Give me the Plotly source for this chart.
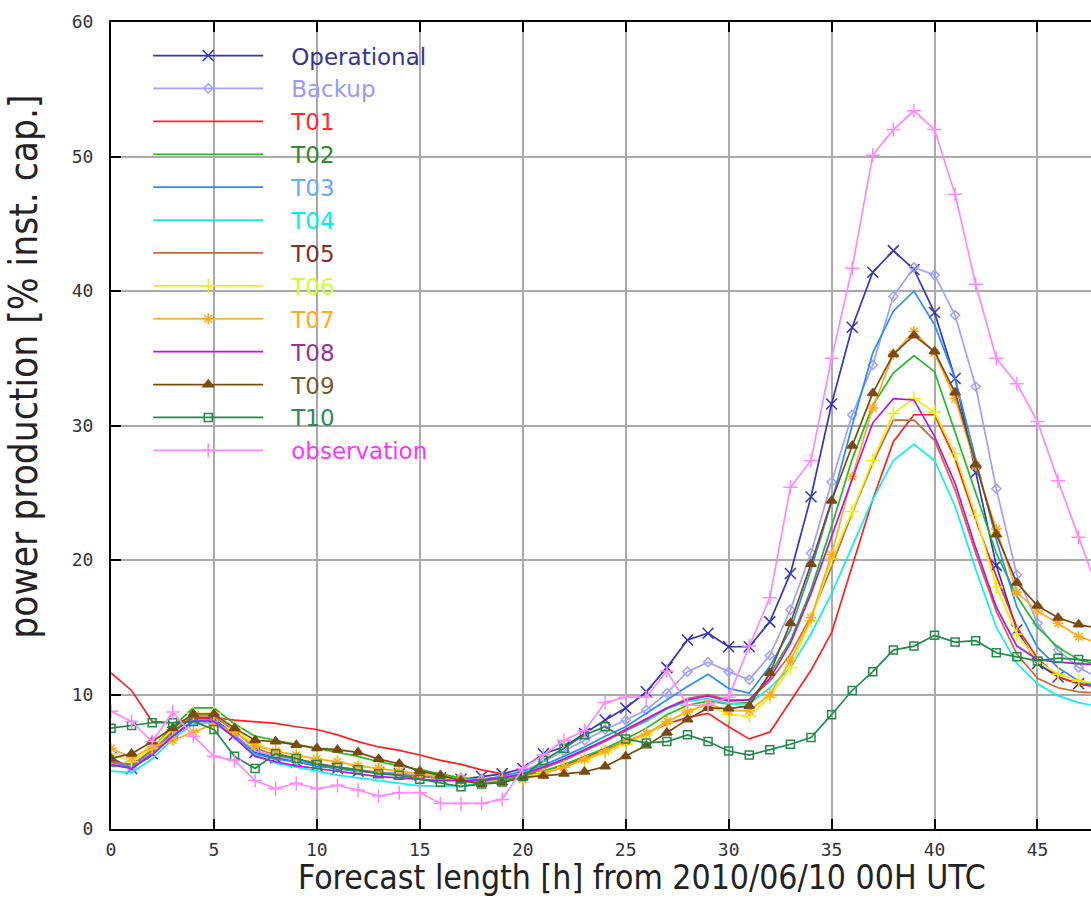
import plotly.graph_objects as go

hours = list(range(49))

operational = [5.3, 4.5, 5.6, 7.2, 8.3, 8.2, 7.0, 5.7, 5.3, 5.0, 4.7, 4.5, 4.3, 4.2, 4.1, 4.0, 3.8, 3.7, 3.9, 4.1,
               4.5, 5.6, 6.1, 7.1, 8.1, 9.0, 10.2, 12.0, 14.05, 14.55, 13.55, 13.55, 15.4, 19.0, 24.7, 31.6, 37.3,
               41.4, 43.0, 41.6, 38.4, 33.5, 26.5, 19.6, 14.8, 12.3, 11.3, 10.8, 10.6]
backup = [5.0, 4.6, 5.8, 7.0, 8.0, 8.1, 7.0, 5.8, 5.4, 5.1, 4.8, 4.6, 4.4, 4.2, 4.1, 4.0, 3.9, 3.8, 3.7, 3.9,
          4.3, 5.0, 5.8, 6.6, 7.4, 8.1, 8.85, 10.1, 11.7, 12.4, 11.7, 11.1, 12.9, 16.3, 20.5, 25.8, 30.8,
          34.5, 39.6, 41.75, 41.2, 38.2, 32.9, 25.3, 18.9, 15.3, 13.3, 12.0, 11.2]
t01 = [11.6, 10.3, 8.0, 7.9, 8.2, 8.3, 8.1, 7.95, 7.85, 7.6, 7.4, 7.0, 6.5, 6.1, 5.85, 5.5, 5.1, 4.8, 4.4, 4.1,
       4.0, 4.3, 4.7, 5.3, 5.9, 6.5, 7.1, 7.8, 8.3, 8.6, 7.6, 6.7, 7.2, 9.5, 11.8, 14.6, 19.5, 24.5, 28.8,
       30.8, 30.8, 27.5, 23.0, 18.8, 15.0, 12.7, 11.3, 10.8, 10.5]
t02 = [4.7, 4.6, 6.0, 7.6, 9.0, 9.0, 7.8, 6.9, 6.6, 6.3, 6.0, 5.7, 5.4, 5.0, 4.7, 4.4, 4.1, 3.8, 3.6, 3.7,
       3.9, 4.3, 4.8, 5.4, 6.0, 6.7, 7.5, 8.5, 9.2, 9.5, 9.3, 9.4, 11.5, 14.0, 17.8, 22.5, 27.5, 31.5, 33.9,
       35.2, 34.0, 29.5, 25.0, 20.5, 17.3, 15.0, 13.5, 12.6, 12.2]
t03 = [5.0, 4.6, 5.6, 6.9, 8.1, 8.1, 6.9, 5.6, 5.2, 5.0, 4.7, 4.5, 4.3, 4.2, 4.0, 3.9, 3.8, 3.7, 3.7, 3.9,
       4.3, 4.75, 5.4, 6.1, 6.9, 7.6, 8.6, 9.6, 10.6, 11.5, 10.45, 10.1, 12.1, 14.8, 19.3, 24.3, 30.0, 35.4,
       38.5, 40.0, 37.5, 33.5, 27.5, 21.5, 16.5, 13.5, 12.0, 11.0, 10.6]
t04 = [4.3, 4.2, 5.2, 6.7, 7.8, 7.9, 6.8, 5.5, 4.9, 4.6, 4.3, 4.0, 3.8, 3.6, 3.4, 3.2, 3.2, 3.2, 3.4, 3.8,
       4.2, 4.6, 5.2, 5.9, 6.6, 7.3, 8.0, 8.9, 9.5, 9.7, 9.3, 9.3, 10.5, 12.0, 14.5, 17.5, 21.0, 24.5, 27.4,
       28.6, 27.4, 24.0, 19.3, 15.0, 12.3, 10.8, 9.9, 9.4, 9.1]
t05 = [5.0, 4.8, 5.8, 7.3, 8.4, 8.4, 7.3, 6.0, 5.5, 5.2, 4.9, 4.6, 4.4, 4.2, 4.0, 3.9, 3.8, 3.6, 3.6, 3.8,
       4.0, 4.5, 5.1, 5.8, 6.5, 7.3, 8.1, 9.0, 9.7, 10.0, 9.6, 9.6, 11.0, 13.0, 15.8, 19.5, 23.5, 27.2, 30.4,
       30.4, 28.9, 25.2, 20.5, 16.2, 13.0, 11.2, 10.5, 10.2, 10.1]
t06 = [5.6, 5.0, 6.0, 7.4, 8.6, 8.6, 7.5, 6.3, 5.8, 5.5, 5.2, 5.0, 4.7, 4.5, 4.3, 4.1, 3.9, 3.6, 3.4, 3.6,
       3.8, 4.2, 4.6, 5.1, 5.7, 6.3, 7.0, 7.9, 8.8, 9.2, 8.5, 8.4, 9.8, 12.0, 15.5, 20.1, 23.6, 27.4, 30.9,
       32.0, 31.0, 27.9, 23.3, 18.0, 14.5, 12.5, 11.5, 11.0, 10.8]
t07 = [6.0, 5.3, 6.1, 6.6, 7.2, 7.8, 7.2, 6.2, 5.8, 5.5, 5.2, 5.0, 4.7, 4.5, 4.3, 4.1, 3.9, 3.7, 3.5, 3.6,
       3.7, 4.1, 4.6, 5.2, 5.8, 6.5, 7.1, 8.0, 8.7, 9.3, 8.8, 8.8, 10.0, 12.5, 15.7, 20.4, 26.2, 31.3, 35.3,
       37.0, 35.4, 32.0, 27.0, 22.3, 17.6, 16.2, 15.3, 14.3, 13.8]
t08 = [4.8, 4.5, 5.5, 6.9, 8.0, 8.0, 6.8, 5.4, 5.0, 4.7, 4.5, 4.3, 4.1, 3.9, 3.8, 3.7, 3.6, 3.6, 3.6, 3.8,
       4.1, 4.6, 5.2, 5.9, 6.6, 7.4, 8.2, 9.0, 9.6, 9.9, 9.5, 9.6, 11.2, 13.8, 17.5, 21.8, 26.0, 30.2, 32.0,
       31.9, 29.2, 25.7, 20.9, 16.5, 13.6, 12.6, 12.4, 12.3, 12.2]
t09 = [5.25, 5.6, 6.5, 7.5, 8.55, 8.55, 7.5, 6.6, 6.5, 6.25, 6.0, 5.9, 5.7, 5.2, 4.85, 4.3, 4.0, 3.6, 3.35, 3.45,
       3.85, 3.95, 4.1, 4.25, 4.65, 5.4, 6.2, 7.15, 8.15, 9.0, 8.95, 9.15, 11.6, 15.3, 19.7, 24.4, 28.5, 32.4,
       35.3, 36.7, 35.5, 32.45, 27.1, 21.9, 18.3, 16.6, 15.7, 15.2, 14.9]
t10 = [7.5, 7.7, 7.9, 7.9, 8.0, 7.4, 5.4, 4.5, 5.6, 5.25, 4.8, 4.6, 4.4, 4.1, 4.0, 3.7, 3.45, 3.15, 3.35, 3.5,
       3.9, 5.1, 6.0, 7.0, 7.6, 6.7, 6.4, 6.5, 7.0, 6.5, 5.8, 5.5, 5.9, 6.3, 6.8, 8.5, 10.3, 11.7, 13.3,
       13.6, 14.4, 13.9, 14.0, 13.1, 12.8, 12.5, 12.7, 12.6, 12.5]
observation = [8.75, 8.0, 6.5, 8.7, 6.9, 5.4, 5.1, 3.6, 3.0, 3.4, 3.0, 3.25, 2.9, 2.45, 2.7, 2.7, 1.9, 1.9, 1.9, 2.2,
               4.5, 5.5, 6.6, 7.3, 9.4, 9.8, 9.8, 11.75, 9.2, 9.2, 9.8, 13.6, 17.2, 25.4, 27.4, 35.0, 41.7, 50.1,
               52.0, 53.4, 52.0, 47.2, 40.5, 35.0, 33.1, 30.3, 25.9, 21.7, 17.5]

names = ["Operational", "Backup", "T01", "T02", "T03", "T04", "T05", "T06", "T07", "T08", "T09", "T10",
         "observation"]
values = [operational, backup, t01, t02, t03, t04, t05, t06, t07, t08, t09, t10, observation]
line_colors = ["#3535b5", "#a0a0ff", "#ff2020", "#22bb22", "#2a8cff", "#11eeee", "#c8683c", "#eeee11",
               "#ffaa22", "#bb11ee", "#7a4a10", "#228b4a", "#ff88ff"]
text_colors = ["#333399", "#9999ff", "#ff2a2a", "#2e8b2e", "#66aaff", "#00eeee", "#8b2a2a", "#ccff33",
               "#ffaa22", "#993399", "#7a5a2a", "#2e8b57", "#ff33ff"]
symbols = ["x-thin", "diamond-open", None, None, None, None, None, "cross-thin", "asterisk", None,
           "triangle-up", "square-open", "cross-thin"]
sizes = [11, 7, 0, 0, 0, 0, 0, 10, 9, 0, 9, 8, 10]

fig = go.Figure()
for i, (nm, vals) in enumerate(zip(names, values)):
    sym = symbols[i]
    label = '<span style="color:%s">\u2003%s</span>' % (text_colors[i], nm)
    if sym is None:
        mode = "lines"
        marker = None
    else:
        mode = "lines+markers"
        marker = dict(symbol=sym, size=sizes[i], color=line_colors[i],
                      line=dict(color=line_colors[i], width=1.5))
    fig.add_trace(go.Scatter(
        x=hours, y=vals, mode=mode, name=label, legendgroup=nm,
        line=dict(color=line_colors[i], width=1.7),
        marker=marker,
    ))

# white panel behind the legend (hides grid lines there)
fig.add_shape(type="rect", xref="paper", yref="paper", x0=0.001, x1=0.366, y0=0.4325, y1=0.999,
              fillcolor="white", line=dict(width=0), layer="between")

tick_font = dict(family="DejaVu Sans Mono", size=18, color="#333333")
title_font_x = dict(family="Liberation Sans Narrow, DejaVu Sans Condensed, sans-serif", size=33.5, color="#222222")
title_font_y = dict(family="Liberation Sans Narrow, DejaVu Sans Condensed, sans-serif", size=38.5, color="#222222")

fig.add_annotation(text="Forecast length [h] from 2010/06/10 00H UTC", xref="paper", yref="paper",
                   x=0.542, y=-0.0595, xanchor="center", yanchor="middle", showarrow=False, font=title_font_x)
fig.add_annotation(text="power production [% inst. cap.]", xref="paper", yref="paper",
                   x=-0.089, y=0.5725, xanchor="center", yanchor="middle", textangle=-90,
                   showarrow=False, font=title_font_y)

fig.update_layout(
    width=1091, height=898,
    margin=dict(l=111, r=0, t=22, b=69),
    plot_bgcolor="white", paper_bgcolor="white",
    showlegend=True,
    legend=dict(x=0.038, y=0.985, xanchor="left", yanchor="top", bgcolor="rgba(0,0,0,0)",
                font=dict(family="DejaVu Sans", size=23), itemwidth=110, tracegroupgap=0,
                traceorder="normal"),
    xaxis=dict(range=[0, 47.6], tickvals=[0, 5, 10, 15, 20, 25, 30, 35, 40, 45],
               showgrid=True, gridcolor="#aaaaaa", gridwidth=2,
               showline=True, linecolor="black", linewidth=2, mirror="ticks",
               ticks="inside", ticklen=10, tickcolor="black", tickwidth=1.5,
               tickfont=tick_font, ticklabelstandoff=3, zeroline=False),
    yaxis=dict(range=[0, 60], tickvals=[0, 10, 20, 30, 40, 50, 60],
               showgrid=True, gridcolor="#aaaaaa", gridwidth=2,
               showline=True, linecolor="black", linewidth=2, mirror=False,
               ticks="inside", ticklen=10, tickcolor="black", tickwidth=1.5,
               tickfont=tick_font, ticklabelstandoff=12, zeroline=False),
)

fig.write_html("out.html")
